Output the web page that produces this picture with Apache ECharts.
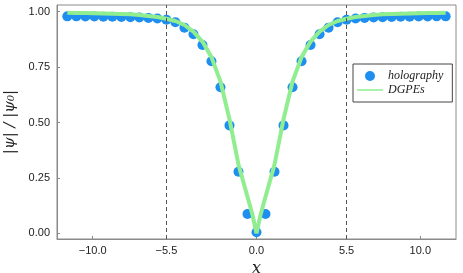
<!DOCTYPE html>
<html>
<head>
<meta charset="utf-8">
<script src="https://cdn.jsdelivr.net/npm/echarts@6/dist/echarts.min.js"></script>
<style>html,body{margin:0;padding:0;background:#fff}#c{width:463px;height:273px}</style>
</head>
<body>
<div id="c"></div>
<script>
// holography samples
const holoX = [-11.55,-11.0,-10.45,-9.9,-9.35,-8.8,-8.25,-7.7,-7.15,-6.6,-6.05,-5.5,-4.95,-4.4,-3.85,-3.3,-2.75,-2.2,-1.65,-1.1,-0.55,0,0.55,1.1,1.65,2.2,2.75,3.3,3.85,4.4,4.95,5.5,6.05,6.6,7.15,7.7,8.25,8.8,9.35,9.9,10.45,11.0,11.55];
const holoY = [0.979,0.979,0.978,0.978,0.977,0.977,0.976,0.975,0.974,0.972,0.969,0.964,0.952,0.928,0.898,0.850,0.776,0.659,0.487,0.278,0.087,0.005,0.087,0.278,0.487,0.659,0.776,0.850,0.898,0.928,0.952,0.964,0.969,0.972,0.974,0.975,0.976,0.977,0.977,0.978,0.978,0.979,0.979];
// DGPEs curve
const dgpeX = [-11.55,-11.0,-10.45,-9.9,-9.35,-8.8,-8.25,-7.7,-7.15,-6.6,-6.05,-5.5,-4.95,-4.4,-3.85,-3.3,-2.75,-2.2,-1.65,-1.1,-0.55,-0.25,0,0.25,0.55,1.1,1.65,2.2,2.75,3.3,3.85,4.4,4.95,5.5,6.05,6.6,7.15,7.7,8.25,8.8,9.35,9.9,10.45,11.0,11.55];
const dgpeY = [0.995,0.994,0.994,0.993,0.992,0.991,0.990,0.988,0.985,0.981,0.976,0.968,0.958,0.940,0.910,0.865,0.795,0.685,0.515,0.310,0.165,0.085,0.0,0.085,0.165,0.310,0.515,0.685,0.795,0.865,0.910,0.940,0.958,0.968,0.976,0.981,0.985,0.988,0.990,0.991,0.992,0.993,0.994,0.994,0.995];
const xTicks = [-10, -5.5, 0, 5.5, 10];
const xTickLabels = ['\u221210.0', '\u22125.5', '0.0', '5.5', '10.0'];
const yTicks = [0, 0.25, 0.5, 0.75, 1.0];
const yTickLabels = ['0.00', '0.25', '0.50', '0.75', '1.00'];
const vLines = [-5.5, 5.5];

const chart = echarts.init(document.getElementById('c'), null, {renderer: 'canvas'});
const serif = '"DejaVu Serif", "Liberation Serif", serif';
const lineIcon = 'path://M0,0L0.01,0L0.01,0.01Z M0,4.2L26,4.2L26,5.8L0,5.8Z M25.99,10L26,10L26,9.99Z';
chart.setOption({
  animation: false,
  grid: {left: 57, right: 7, top: 5, bottom: 34, show: true, borderColor: '#8a8a8a', borderWidth: 1, containLabel: false, outerBoundsMode: 'none'},
  legend: {
    orient: 'vertical', left: 353, top: 64,
    padding: [6, 9, 6, 4], itemGap: 2, itemWidth: 26, itemHeight: 10,
    borderColor: '#444', borderWidth: 1, backgroundColor: '#fff',
    textStyle: {fontFamily: '"Liberation Serif", serif', fontStyle: 'italic', fontSize: 12, color: '#222'},
    data: [
      {name: 'holography', icon: 'circle'},
      {name: 'DGPEs', icon: lineIcon, itemStyle: {color: '#90ee90'}}
    ]
  },
  xAxis: {
    type: 'value', min: -12.18, max: 12.18,
    name: 'x', nameLocation: 'middle', nameGap: 17,
    nameTextStyle: {fontFamily: serif, fontStyle: 'italic', fontSize: 16, color: '#222'},
    axisLine: {show: true, onZero: false, lineStyle: {color: '#8a8a8a'}},
    axisTick: {show: true, inside: true, length: 3, customValues: xTicks, lineStyle: {color: '#8a8a8a'}},
    axisLabel: {customValues: xTicks, fontSize: 11, color: '#222', margin: 6,
      formatter: v => xTickLabels[xTicks.indexOf(v)]},
    splitLine: {show: false}
  },
  yAxis: {
    type: 'value', min: -0.0257, max: 1.0302,
    name: '|\u03c8| / |\u03c8\u2080|', nameLocation: 'middle', nameGap: 31, nameRotate: 90,
    nameTextStyle: {fontFamily: serif, fontStyle: 'italic', fontSize: 15, color: '#222'},
    axisLine: {show: true, onZero: false, lineStyle: {color: '#8a8a8a'}},
    axisTick: {show: true, inside: true, length: 3, customValues: yTicks, lineStyle: {color: '#8a8a8a'}},
    axisLabel: {customValues: yTicks, fontSize: 11, color: '#222', margin: 7,
      formatter: v => yTickLabels[yTicks.indexOf(v)]},
    splitLine: {show: false}
  },
  series: [
    {
      name: 'holography', type: 'scatter', symbol: 'circle', symbolSize: 10,
      itemStyle: {color: '#1e8ff0', opacity: 1},
      data: holoX.map((x, i) => [x, holoY[i]]),
      z: 2,
      markLine: {
        silent: true, symbol: 'none', label: {show: false},
        lineStyle: {type: [4, 3], color: '#555', width: 1},
        data: vLines.map(v => ({xAxis: v}))
      }
    },
    {
      name: 'DGPEs', type: 'line', symbol: 'none', smooth: false,
      lineStyle: {color: '#90ee90', width: 4},
      itemStyle: {color: '#90ee90'},
      data: dgpeX.map((x, i) => [x, dgpeY[i]]),
      z: 3
    }
  ]
});
</script>
</body>
</html>
